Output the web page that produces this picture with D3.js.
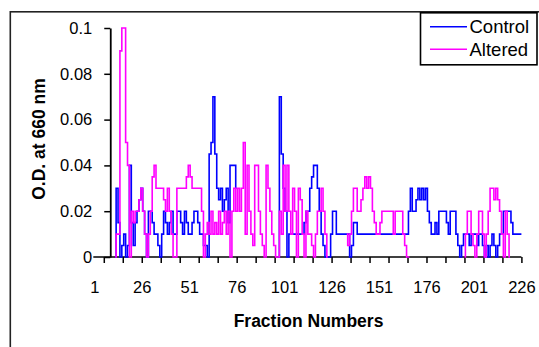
<!DOCTYPE html>
<html>
<head>
<meta charset="utf-8">
<script src="https://cdn.jsdelivr.net/npm/d3@7"></script>
<style>
  html, body { margin: 0; padding: 0; background: #fff; }
  svg { display: block; }
  text { font-family: "Liberation Sans", Arial, sans-serif; fill: #000; }
</style>
</head>
<body>
<svg id="chart" width="539" height="347"></svg>
<script>
// Absorbance readings per collected fraction (null = fraction not recorded)
const firstFraction = 12;

const controlOD = [
  0, .03, .015, 0, .005, .01, 0, .005, .04, .015,
  .005, .015, .02, .025, .03, .02, .01, 0, .02, .02,
  .015, .01, .01, .005, 0, .01, .02, .015, .01, .015,
  .02, .01, .01, .02, .02, .015, .01, .02, .015, .01,
  .01, .015, .02, .02, .015, .01, .01, .005, .005, 0,
  .045, .05, .07, .045, .03, .025, .03, .02, .025, .03,
  .015, .04, .04, .04, .03, null, null, null, null, null,
  null, null, null, null, null, null, null, null, null, null,
  null, null, null, null, null, null, 0, .07, .045, .03,
  .02, 0, .01, .01, .01, .01, .01, .01, .01, .01,
  .015, .02, .02, .03, .035, .04, .04, .03, .02, .01,
  .005, 0, 0, 0, .01, .02, .02, .01, .01, .01,
  .01, .01, .01, .01, 0, .005, .015, .015, .01, .01,
  .01, .01, .01, .01, .01, .01, .01, .01, .01, .01,
  .01, .01, .01, .01, .01, .01, .01, .01, .01, .01,
  .01, .01, .01, .01, .01, .02, .03, .02, .02, .025,
  .03, .025, .03, .025, .03, .02, .015, .01, .01, .015,
  .01, .02, .02, .02, .02, .015, .01, .02, .02, .02,
  .01, .005, 0, .005, .01, .01, .01, .005, .01, .01,
  .01, .005, .01, .01, .005, 0, .005, 0, .005, .01,
  .005, 0, .005, .01, .01, .02, .02, .02, .02, .015,
  .01, .01, .01, .01, .01
];

const alteredOD = [
  0, .01, .01, .09, .1, .1, .05, .04, 0, .02,
  .015, .02, .02, .025, .03, .02, .01, 0, .01, .02,
  .035, .04, .03, .03, .03, .03, .025, .02, .03, .02,
  .01, 0, 0, .03, .03, .03, .03, .03, .035, .04,
  .035, .03, .03, .03, .03, .03, .02, 0, .01, .015,
  .01, .02, .01, .015, .01, .02, .01, .015, .02, .01,
  .02, 0, .02, .03, .02, .03, .02, .03, .05, .01,
  .04, .02, .01, .005, .04, .04, .02, .01, .005, 0,
  .04, .03, .02, .01, .005, 0, 0, .02, .01, .04,
  .02, .04, .02, .01, .03, .02, 0, .03, .025, .01,
  0, .02, .01, .01, .005, 0, .01, .02, .02, .03,
  .02, .01, 0, null, null, null, null, null, null, null,
  null, null, .01, .005, .01, .02, .03, .03, .02, .02,
  .025, .03, .035, .03, .035, .03, .02, .015, .01, .01,
  .015, .02, .02, .02, .02, .02, .02, .01, .02, .02,
  .02, .02, .01, .005, 0, 0, null, null, null, null,
  null, null, null, null, null, null, null, null, null, null,
  null, null, null, null, null, null, null, null, null, null,
  null, null, null, null, 0, .01, .02, .02, .01, .005,
  0, .01, .02, .02, .01, 0, .01, .02, .03, .03,
  .025, .03, .025, .02, .01, 0, .02, .01, 0, null,
  null, null, null, null, null
];

const seriesNames = ["Control", "Altered"];
const seriesColors = ["#0000ff", "#ff00ff"];

const xTickMarks = [6, 16, 26, 36, 46, 56, 66, 76, 86, 96, 106, 116, 126, 136, 146, 156, 166, 176, 186, 196, 206, 216, 226];
const xTickLabels = [1, 26, 51, 76, 101, 126, 151, 176, 201, 226];
const yTickValues = [0, 0.02, 0.04, 0.06, 0.08, 0.1];
const yTickLabels = ["0", "0.02", "0.04", "0.06", "0.08", "0.1"];

const svg = d3.select("#chart");

// chart area border
svg.append("rect")
  .attr("x", 10.3).attr("y", 11.8)
  .attr("width", 600).attr("height", 400)
  .attr("fill", "#fff").attr("stroke", "#222").attr("stroke-width", 1.6);

const x = d3.scaleLinear().domain([1, 226]).range([94.3, 521.4]);
const y = d3.scaleLinear().domain([0, 0.1]).range([257, 28]);
const yAxisAt = x(9.4);

// x axis: tick marks every 10 fractions, labels every 25
const xAxisG = svg.append("g").attr("transform", `translate(0,${y(0)})`);
xAxisG.append("line")
  .attr("x1", x(1) - 1).attr("x2", x(226))
  .attr("stroke", "#000").attr("stroke-width", 1.6);
xAxisG.append("g")
  .call(d3.axisBottom(x).tickValues(xTickMarks).tickSize(6).tickSizeOuter(0).tickFormat(""))
  .call(g => g.select(".domain").remove())
  .call(g => g.selectAll("line").attr("stroke", "#000").attr("stroke-width", 1.5));
xAxisG.append("g")
  .call(d3.axisBottom(x).tickValues(xTickLabels).tickSize(0).tickPadding(24))
  .call(g => g.select(".domain").remove())
  .call(g => g.selectAll("text")
    .style("font-family", "'Liberation Sans', Arial, sans-serif")
    .style("font-size", "16.5px").attr("fill", "#000"));

// y axis
svg.append("g")
  .attr("transform", `translate(${yAxisAt},0)`)
  .call(d3.axisLeft(y).tickValues(yTickValues).tickSize(6).tickSizeOuter(0).tickPadding(12)
    .tickFormat((d, i) => yTickLabels[i]))
  .call(g => g.select(".domain").attr("stroke", "#000").attr("stroke-width", 1.8))
  .call(g => g.selectAll(".tick line").attr("stroke", "#000").attr("stroke-width", 1.5))
  .call(g => g.selectAll("text")
    .style("font-family", "'Liberation Sans', Arial, sans-serif")
    .style("font-size", "16.5px").attr("fill", "#000"));

// data lines, stepped between neighbouring fractions
const line = d3.line()
  .defined(d => d.v !== null)
  .curve(d3.curveStep)
  .x(d => x(d.f))
  .y(d => y(d.v));

[controlOD, alteredOD].forEach((values, k) => {
  const pts = values.map((v, i) => ({ f: firstFraction + i, v }));
  svg.append("path")
    .datum(pts)
    .attr("d", line)
    .attr("fill", "none")
    .attr("stroke", seriesColors[k])
    .attr("stroke-width", 1.6)
    .attr("stroke-linejoin", "miter");
});

// axis titles
svg.append("text")
  .attr("x", 308.5).attr("y", 327)
  .attr("text-anchor", "middle")
  .style("font-size", "17.5px").style("font-weight", "bold")
  .text("Fraction Numbers");

svg.append("text")
  .attr("transform", "translate(45,139) rotate(-90)")
  .attr("text-anchor", "middle")
  .style("font-size", "17.5px").style("font-weight", "bold")
  .text("O.D. at 660 nm");

// legend
const legend = svg.append("g");
legend.append("rect")
  .attr("x", 420.5).attr("y", 12.8)
  .attr("width", 116.5).attr("height", 52)
  .attr("fill", "#fff").attr("stroke", "#000").attr("stroke-width", 1.6);
seriesNames.forEach((name, k) => {
  const ly = 26.7 + k * 22.6;
  legend.append("line")
    .attr("x1", 430).attr("x2", 467)
    .attr("y1", ly).attr("y2", ly)
    .attr("stroke", seriesColors[k]).attr("stroke-width", 1.6);
  legend.append("text")
    .attr("x", 469.5).attr("y", ly + 6.4)
    .style("font-size", "18.5px")
    .text(name);
});
</script>
</body>
</html>
